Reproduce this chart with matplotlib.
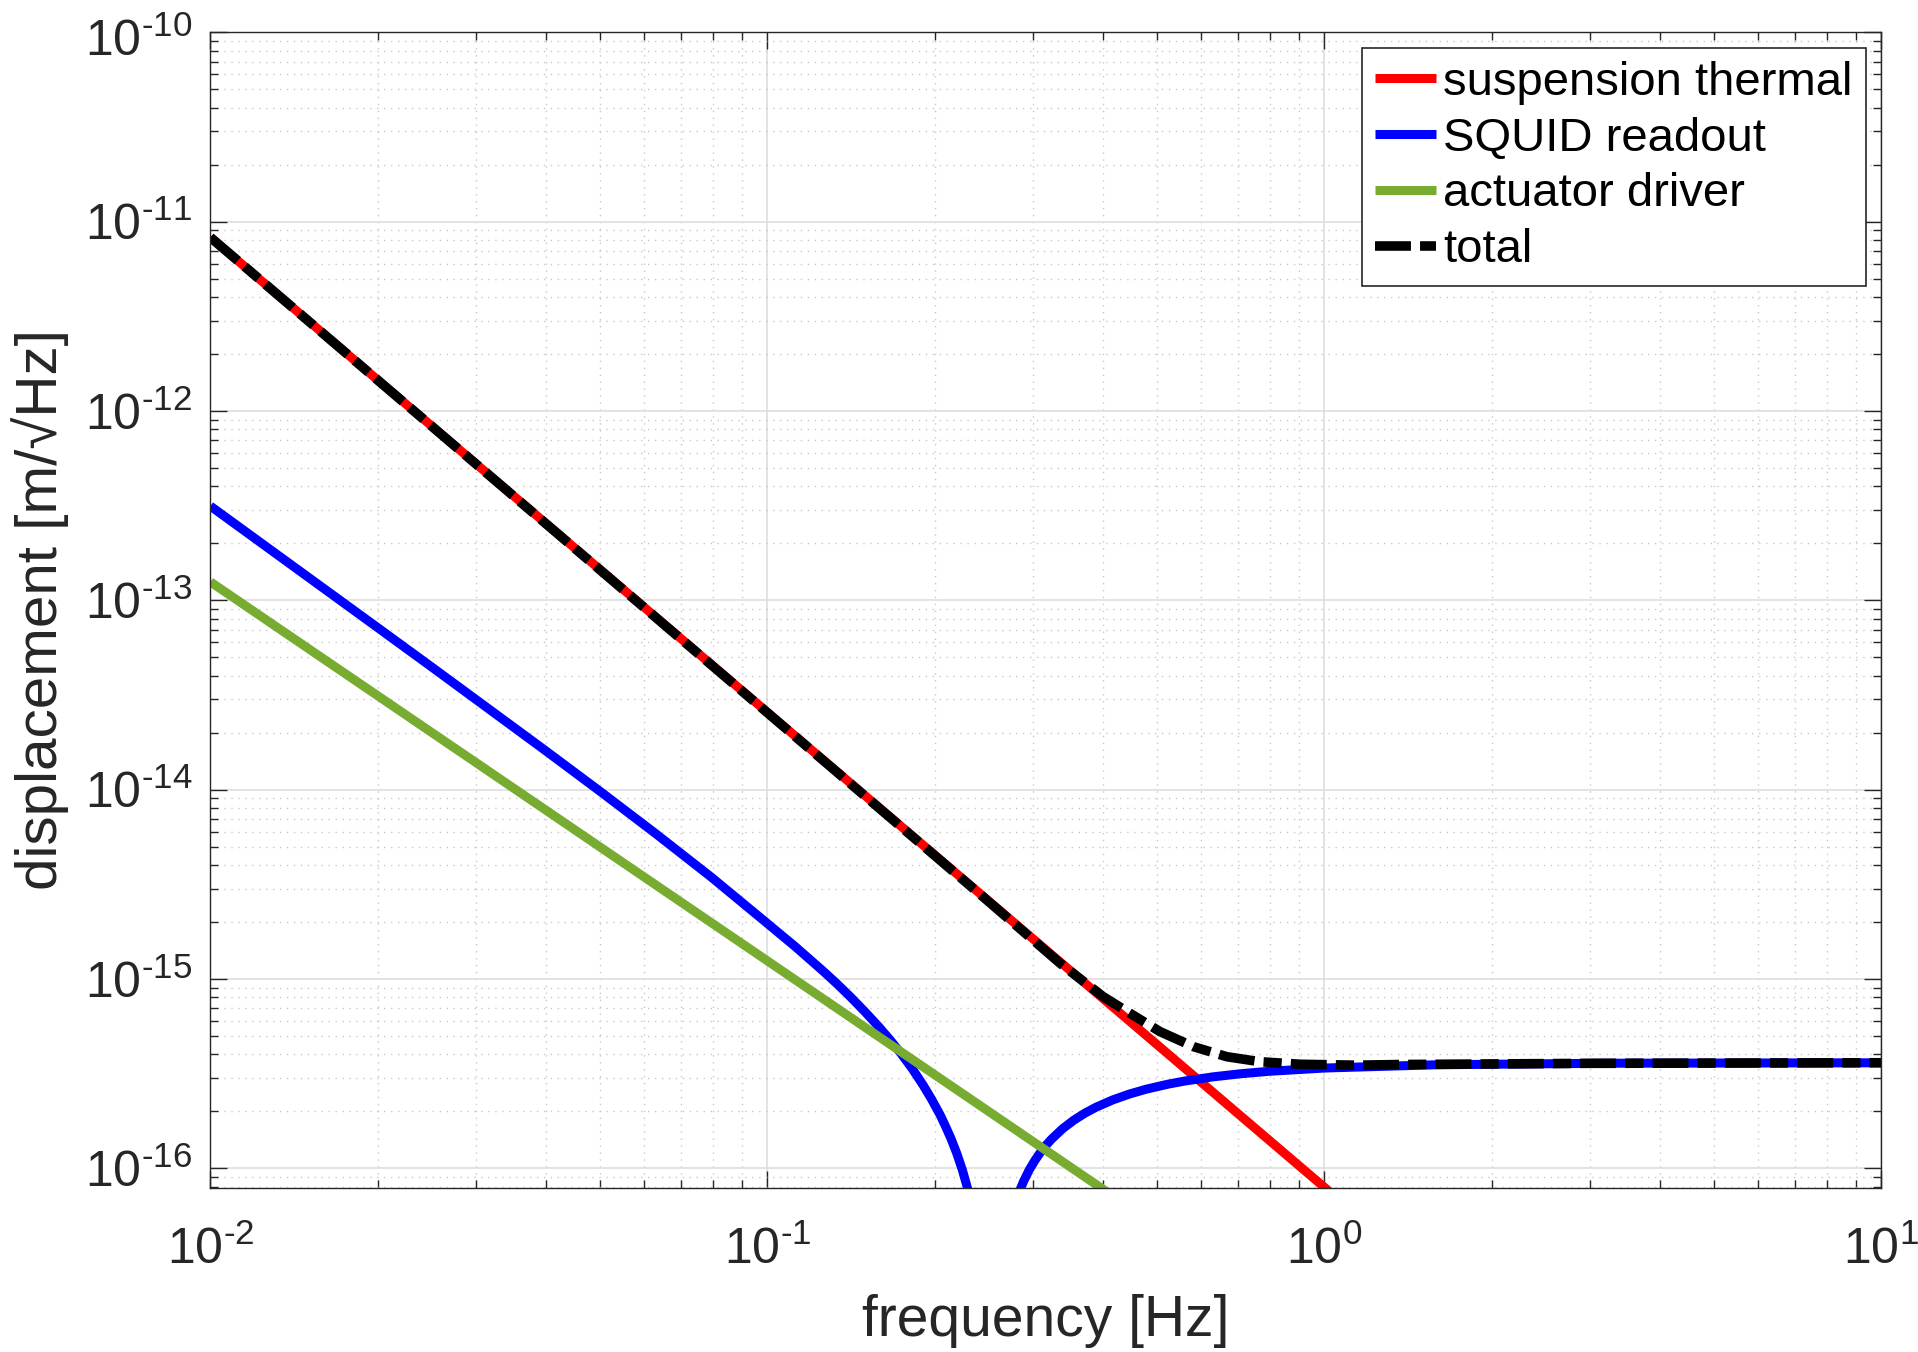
import numpy as np
import matplotlib
matplotlib.use("Agg")
import matplotlib.pyplot as plt
from matplotlib.ticker import LogLocator, NullFormatter, FuncFormatter
from matplotlib.transforms import ScaledTranslation

# values (frequency in Hz, displacement in m/sqrt(Hz))
thermal_f = [0.01, 1.096]
thermal_v = [8.26e-12, 6.3e-17]

actuator_f = [0.01, 0.444]
actuator_v = [1.25e-13, 6.3e-17]

# SQUID readout: two branches either side of the notch (nan splits the line)
squid_f = [0.01, 0.01995, 0.02512, 0.03981, 0.05012, 0.0631, 0.07943, 0.1,
           0.1122, 0.1259, 0.1334, 0.1413, 0.1496, 0.1585, 0.166, 0.1738,
           0.182, 0.1905, 0.1972, 0.2042, 0.2089, 0.2138, 0.2188, 0.2239,
           0.2291, 0.2344,
           np.nan,
           0.2754, 0.2818, 0.2884, 0.2951, 0.302, 0.309, 0.3162, 0.3236,
           0.3388, 0.3548, 0.3715, 0.389, 0.4169, 0.4467, 0.4786, 0.5248,
           0.5623, 0.631, 0.7079, 0.7943, 1.0, 1.585, 3.162, 10.0]
squid_v = [3.144e-13, 7.18e-14, 4.381e-14, 1.619e-14, 9.769e-15, 5.835e-15,
           3.434e-15, 1.962e-15, 1.481e-15, 1.100e-15, 9.409e-16, 7.98e-16,
           6.714e-16, 5.586e-16, 4.771e-16, 4.031e-16, 3.356e-16, 2.738e-16,
           2.310e-16, 1.915e-16, 1.663e-16, 1.426e-16, 1.197e-16, 9.80e-17,
           7.71e-17, 5.73e-17,
           np.nan,
           5.85e-17, 7.22e-17, 8.52e-17, 9.77e-17, 1.095e-16, 1.209e-16,
           1.318e-16, 1.422e-16, 1.615e-16, 1.791e-16, 1.952e-16, 2.098e-16,
           2.294e-16, 2.464e-16, 2.613e-16, 2.781e-16, 2.888e-16, 3.037e-16,
           3.154e-16, 3.248e-16, 3.381e-16, 3.517e-16, 3.584e-16, 3.604e-16]

total_f = [0.01, 0.2477, 0.3355, 0.4009, 0.4477, 0.5073, 0.5821, 0.6683,
           0.7668, 0.9048, 1.144, 1.368, 3.0, 10.0]
total_v = [8.26e-12, 2.61e-15, 1.208e-15, 8.05e-16, 6.58e-16, 5.26e-16,
           4.385e-16, 3.88e-16, 3.65e-16, 3.54e-16, 3.50e-16, 3.53e-16,
           3.58e-16, 3.606e-16]

labels = ["suspension thermal", "SQUID readout", "actuator driver", "total"]

plt.rcParams['font.family'] = ['Liberation Sans', 'DejaVu Sans']
plt.rcParams['mathtext.fontset'] = 'custom'
plt.rcParams['mathtext.rm'] = 'Liberation Sans'
plt.rcParams['mathtext.it'] = 'Liberation Sans:italic'
plt.rcParams['axes.unicode_minus'] = False


def pow10_label(v, pos):
    # 10^n with a short hyphen in the exponent, like the original
    n = int(round(np.log10(v)))
    exp = ('\u2010%d' % -n) if n < 0 else '%d' % n
    return r'$\mathdefault{10^{%s}}$' % exp


axcol = '#262626'
W, H = 1918, 1352
fig = plt.figure(figsize=(W / 100, H / 100), dpi=100)
ax = fig.add_axes([210.4 / W, 1 - 1187.5 / H, 1670.9 / W, 1155.2 / H])

lw = 6.5
ax.plot(thermal_f, thermal_v, color=(1, 0, 0), lw=lw, label=labels[0],
        solid_capstyle='butt')
ax.plot(squid_f, squid_v, color=(0, 0, 1), lw=lw, label=labels[1],
        solid_capstyle='butt')
ax.plot(actuator_f, actuator_v, color='#77AC30', lw=lw, label=labels[2],
        solid_capstyle='butt')
tot, = ax.plot(total_f, total_v, color='black', lw=6.9, label=labels[3])
# dash-dot pattern (in line widths): long dash, gap, short dash, gap
tot.set_dashes([3.75, 0.95, 1.9, 0.95])

ax.set_xscale('log')
ax.set_yscale('log')
ax.set_xlim(1e-2, 1e1)
ax.set_ylim(10 ** -16.102, 1e-10)

ax.xaxis.set_major_locator(LogLocator(base=10, numticks=20))
ax.yaxis.set_major_locator(LogLocator(base=10, numticks=20))
for axis in (ax.xaxis, ax.yaxis):
    axis.set_major_formatter(FuncFormatter(pow10_label))
    axis.set_minor_locator(LogLocator(base=10, subs=np.arange(2, 10), numticks=100))
    axis.set_minor_formatter(NullFormatter())

ax.grid(True, which='major', color='#dedede', lw=1.2, ls='-')
ax.grid(True, which='minor', color='#c8c8c8', lw=1.0, ls=(0, (1, 4)))
ax.set_axisbelow(True)

ax.tick_params(which='both', direction='in', top=True, right=True,
               colors=axcol, labelcolor='#262626', width=1.0)
ax.tick_params(which='major', length=12, labelsize=36)
ax.tick_params(which='minor', length=6)
ax.tick_params(axis='y', pad=13)
ax.tick_params(axis='x', pad=28)
for s in ax.spines.values():
    s.set_color(axcol)
    s.set_linewidth(1.0)

ax.set_xlabel('frequency [Hz]', fontsize=41, color='#262626')
ax.set_ylabel('displacement [m/\u221aHz]', fontsize=42, color='#262626')
ax.xaxis.set_label_coords(0.5, (1187.5 - 1321) / 1155.2)
ax.xaxis.label.set_va('center')
ax.yaxis.set_label_coords((40 - 210.4) / 1670.9, 0.5)
ax.yaxis.label.set_va('center')

leg = ax.legend(loc='upper right', bbox_to_anchor=(0.9908, 0.9867),
                borderaxespad=0, fontsize=34, handlelength=1.3,
                handletextpad=0.15, borderpad=0.28, labelspacing=0.25,
                fancybox=False, framealpha=1, edgecolor='#262626')
leg.get_frame().set_linewidth(1.2)

# keep the top y tick label (10^-10) inside the figure
fig.canvas.draw()
for t in ax.yaxis.get_major_ticks():
    if abs(np.log10(t.get_loc()) + 10) < 1e-6:
        t.label1.set_transform(t.label1.get_transform() +
                               ScaledTranslation(0, -5 / 100, fig.dpi_scale_trans))

fig.savefig('out.png', dpi=100)
